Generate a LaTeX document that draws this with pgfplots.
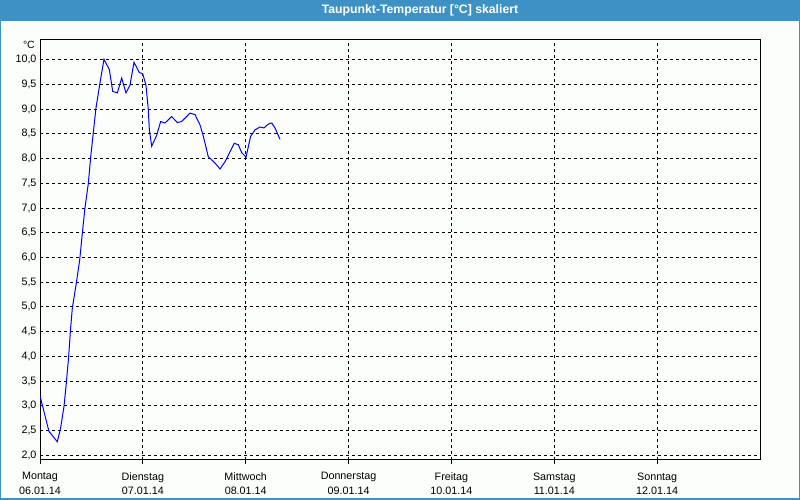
\documentclass[border=0pt]{standalone}
\usepackage{pgfplots}
\pgfplotsset{compat=1.18}
\usepackage{fontspec}
\setmainfont{Liberation Sans}
\definecolor{barblue}{RGB}{61,145,197}
\definecolor{bgwhite}{RGB}{252,254,252}
\definecolor{lineblue}{RGB}{0,0,255}
\begin{document}
\begin{tikzpicture}[x=1bp,y=1bp]
\useasboundingbox (0,0) rectangle (800,500);
\fill[barblue] (0,0) rectangle (800,500);
\fill[bgwhite] (1.5,1.5) rectangle (798.5,479);
\node[text=white,font=\bfseries\fontsize{12.3}{14}\selectfont] at (420,489.5) {Taupunkt-Temperatur [°C] skaliert};
\node[anchor=east,inner sep=0pt,font=\fontsize{10.5}{12}\selectfont] at (35,455) {°C};
\begin{axis}[
  at={(40bp,40bp)}, anchor=south west, scale only axis,
  width=720bp, height=420bp,
  xmin=0, xmax=7, ymin=1.9, ymax=10.4,
  axis line style={black, line width=1bp},
  grid=major,
  major grid style={black, line width=0.8bp, dash pattern=on 3bp off 3bp},
  xtick={0,1,2,3,4,5,6},
  xticklabels={{Montag\\06.01.14},{Dienstag\\07.01.14},{Mittwoch\\08.01.14},{Donnerstag\\09.01.14},{Freitag\\10.01.14},{Samstag\\11.01.14},{Sonntag\\12.01.14}},
  xticklabel style={align=center, font=\fontsize{10.8}{14.3}\selectfont, yshift=-5bp},
  xtick pos=left, xtick align=outside,
  xtick style={black, line width=1bp},
  major tick length=4bp,
  ytick={2,2.5,3,3.5,4,4.5,5,5.5,6,6.5,7,7.5,8,8.5,9,9.5,10},
  yticklabels={{2,0},{2,5},{3,0},{3,5},{4,0},{4,5},{5,0},{5,5},{6,0},{6,5},{7,0},{7,5},{8,0},{8,5},{9,0},{9,5},{10,0}},
  yticklabel style={font=\fontsize{10.8}{12}\selectfont},
  ytick style={draw=none},
]
\addplot[lineblue, line width=1bp] coordinates {
(0,3.2) (0.087,2.48) (0.168,2.27) (0.2,2.54) (0.233,2.98) (0.256,3.46)
(0.279,4.0) (0.295,4.5) (0.314,4.97) (0.353,5.48) (0.386,5.95) (0.415,6.56)
(0.437,7.0) (0.47,7.5) (0.493,8.04) (0.518,8.52) (0.544,9.02) (0.583,9.53)
(0.622,10.01) (0.674,9.8) (0.707,9.36) (0.752,9.33) (0.794,9.63) (0.836,9.33)
(0.875,9.49) (0.914,9.95) (0.966,9.74) (0.998,9.72) (1.03,9.49) (1.053,8.99)
(1.063,8.58) (1.086,8.25) (1.134,8.47) (1.173,8.75) (1.215,8.72) (1.28,8.85)
(1.335,8.73) (1.377,8.75) (1.458,8.92) (1.507,8.89) (1.556,8.68) (1.588,8.45)
(1.636,8.04) (1.701,7.91) (1.75,7.79) (1.8,7.94) (1.847,8.14) (1.889,8.31)
(1.928,8.28) (1.961,8.12) (2.003,8.03) (2.048,8.45) (2.09,8.58) (2.139,8.64)
(2.178,8.62) (2.22,8.70) (2.253,8.72) (2.285,8.62) (2.333,8.39)
};
\end{axis}
\end{tikzpicture}
\end{document}
